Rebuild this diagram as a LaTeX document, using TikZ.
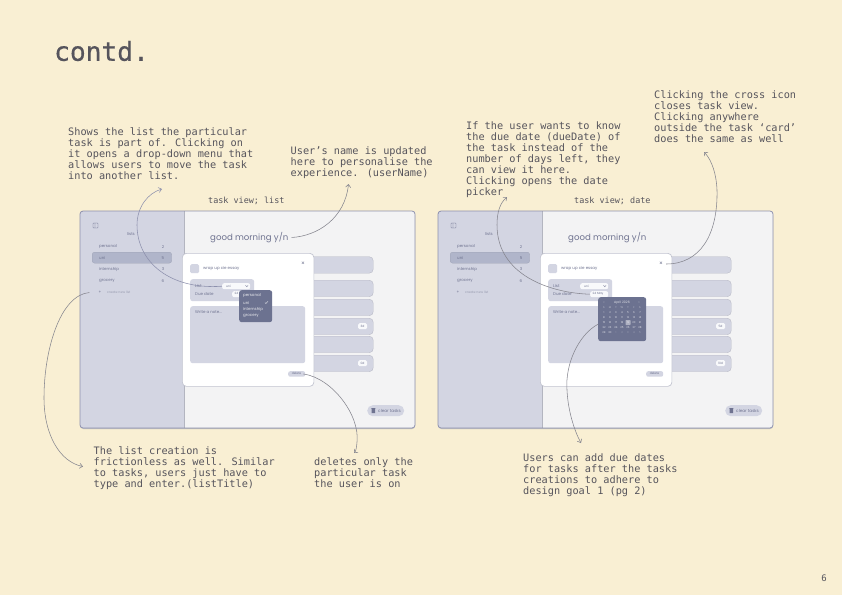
\documentclass[tikz,border=0pt]{standalone}
\usepackage{fontspec}
\setmainfont{DejaVu Sans Mono}
\newfontfamily\uifont{Poppins}
\usepackage{xcolor}
\usetikzlibrary{positioning, arrows.meta}
\definecolor{paper}{HTML}{F9EFD3}
\definecolor{inktext}{HTML}{56545C}
\definecolor{panelbg}{HTML}{F3F3F4}
\definecolor{sidebg}{HTML}{D3D5E2}
\definecolor{framec}{HTML}{8D90AD}
\definecolor{selrow}{HTML}{B0B5CA}
\definecolor{uitext}{HTML}{6F7390}
\definecolor{darkpop}{HTML}{6C7290}
\definecolor{wirec}{HTML}{85858E}
\begin{document}
\begin{tikzpicture}[
  x=1pt, y=-1pt,
  note/.style={anchor=north west, inner sep=0pt, align=left, text=inktext,
               font=\fontsize{10.25}{11}\selectfont},
  viewtag/.style={anchor=west, inner sep=0pt, text=inktext,
                  font=\fontsize{8.45}{10}\selectfont},
  uilabel/.style={anchor=west, inner sep=0pt, text=uitext,
                  font=\uifont\fontsize{4}{5}\selectfont},
  uinum/.style={uilabel, anchor=center},
  poplabel/.style={uilabel, text=white!85!darkpop},
  calnum/.style={anchor=center, inner sep=0pt, text=white!80!darkpop,
                 font=\uifont\fontsize{2.6}{3}\selectfont},
  block/.style={anchor=north west, inner sep=0pt, rounded corners=2.5pt, fill=sidebg},
  taskrow/.style={block, rounded corners=4pt, minimum width=163pt, minimum height=16.5pt,
                  draw=black!12!sidebg, line width=.4pt},
  badge/.style={block, fill=white!85!sidebg, minimum width=9pt, minimum height=6pt,
                rounded corners=1.5pt, text=uitext, font=\uifont\fontsize{3}{4}\selectfont},
  wire/.style={-{Straight Barb[length=3pt,width=5pt]}, wirec, line width=.55pt},
]
\useasboundingbox (0,0) rectangle (842,595);
\fill[paper] (0,0) rectangle (842,595);

% --- heading ---
\node[anchor=west, inner sep=0pt, text=inktext, font=\addfontfeature{FakeBold=0.5}\fontsize{26.2}{28}\selectfont] (title) at (54,51) {contd.};
\node[anchor=center, inner sep=0pt, text=inktext, font=\fontsize{9}{10}\selectfont] (pageNo) at (824,578) {6};

% --- both task views ---
\foreach \side/\dx/\tagx/\tagtext in {L/0/208/{task view; list}, R/358/216/{task view; date}} {
\begin{scope}[xshift=\dx pt, name prefix=\side-]
  \node[viewtag] (viewTag) at (\tagx,201) {\tagtext};
  \fill[black!28] (80.5,212.5) [rounded corners=3pt] rectangle (415,429);
  \node[block, fill=panelbg, minimum width=335pt, minimum height=217pt] (frame) at (80,211) {};
  \fill[sidebg] (184,211) [rounded corners=3pt] -- (80,211) -- (80,428) [sharp corners] -- (184,428) -- cycle;
  \draw[black!15!sidebg, line width=.6pt] (184,211) -- (184,428);
  \draw[framec, line width=.8pt, rounded corners=3pt] (80,211) rectangle (415,428);

  % sidebar
  \draw[uitext, line width=.35pt, rounded corners=.6pt] (93,223) rectangle (98,228) (95,223) -- (95,228);
  \node[uilabel] (listsHead) at (127,234) {lists};
  \node[block, fill=selrow, draw=black!10!selrow, line width=.3pt, minimum width=79.5pt, minimum height=11pt] (uniRow) at (92,252) {};
  \foreach \nm/\y/\cnt/\cntx in {personal/247/2/163, uni/258/5/163, internship/269/3/163, grocery/281/6/163} {
    \node[uilabel] (side\nm) at (99,\y) {\nm};
    \node[uinum] (count\nm) at (\cntx,\y) {\cnt};
  }
  \node[uinum] (plus) at (100,292.5) {+};
  \node[uilabel, font=\uifont\fontsize{3.2}{4}\selectfont, text=uitext!70] (createList) at (107,292.5) {create new list};

  % main panel
  \node[anchor=west, inner sep=0pt, text=uitext, font=\uifont\fontsize{8.6}{10}\selectfont] (greeting) at (210,237.5) {good morning y/n};
  \foreach \y [count=\r] in {256.5,280,299,318,336,355} {
    \node[taskrow] (row\r) at (210,\y) {};
  }
  \node[badge] (badgeA) at (358,323) {};
  \node[badge] (badgeB) at (358,360) {};
  \node[block, rounded corners=5.5pt, minimum width=37pt, minimum height=11pt] (clearPill) at (367,405) {};
  \node[uilabel, font=\uifont\fontsize{4.2}{5}\selectfont] (clearText) at (378,410.5) {clear tasks};
  \fill[uitext] (371.5,408.5) rectangle (375,413) (371,408) rectangle (375.5,408.4);

  % task card
  \node[block, fill=white, draw=black!8!sidebg, line width=.7pt, rounded corners=4pt,
        minimum width=131.5pt, minimum height=133pt] (card) at (182,253) {};
  \node[block, rounded corners=1.5pt, minimum width=9pt, minimum height=9pt] (tick) at (190,264) {};
  \node[uilabel, font=\uifont\fontsize{4}{5}\selectfont] (taskName) at (203,268) {wrap up cie essay};
  \node[uinum, font=\uifont\fontsize{6}{6}\selectfont] (closeBtn) at (303,264) {×};
  \node[block, minimum width=64pt, minimum height=22pt] (metaBox) at (190,279) {};
  \node[uilabel] (listLabel) at (195,286) {List};
  \node[uilabel] (dueLabel) at (195,294) {Due date};
  \node[block, fill=white!85!sidebg, rounded corners=2pt, minimum width=28pt, minimum height=6pt] (listField) at (222,283) {};
  \node[uilabel, font=\uifont\fontsize{3}{4}\selectfont] (listValue) at (226,286) {uni};
  \draw[uitext, line width=.3pt] (245.5,285.3) -- (246.8,286.8) -- (248.1,285.3);
  \node[block, fill=white!85!sidebg, rounded corners=2pt, minimum width=18pt, minimum height=6pt] (datePill) at (232,291) {};
  \node[uilabel, font=\uifont\fontsize{3}{4}\selectfont] (dateValue) at (234.5,294) {24 May};
  \node[block, minimum width=115pt, minimum height=57pt] (noteBox) at (190,306) {};
  \node[uilabel] (noteHint) at (195,312) {Write a note...};
  \node[block, rounded corners=2pt, minimum width=17pt, minimum height=5.5pt] (delBtn) at (288,371) {};
  \node[uinum, font=\uifont\fontsize{3}{4}\selectfont] (delText) at (296.5,373.7) {delete};
\end{scope}
}
\node[anchor=center, text=uitext, inner sep=0pt, font=\uifont\fontsize{3}{4}\selectfont] (L-badgeAtext) at (362.5,326) {3d};
\node[anchor=center, text=uitext, inner sep=0pt, font=\uifont\fontsize{3}{4}\selectfont] (L-badgeBtext) at (362.5,363) {0d};
\node[anchor=center, text=uitext, inner sep=0pt, font=\uifont\fontsize{3}{4}\selectfont] (R-badgeAtext) at (720.5,326) {5d};
\node[anchor=center, text=uitext, inner sep=0pt, font=\uifont\fontsize{3}{4}\selectfont] (R-badgeBtext) at (720.5,363) {10d};

% --- drop-down menu ---
\node[block, fill=darkpop, minimum width=33pt, minimum height=32pt] (L-menu) at (239,290) {};
\foreach \nm/\y in {personal/296, uni/302.5, internship/309, grocery/316} {
  \node[poplabel] (menu\nm) at (243,\y) {\nm};
}
\draw[white!85!darkpop, line width=.35pt] (265,302.5) -- (266,303.5) -- (268,301.3);

% --- date picker ---
\node[block, fill=darkpop, minimum width=48pt, minimum height=44pt] (R-calendar) at (598,297) {};
\node[calnum, font=\uifont\fontsize{3.2}{4}\selectfont] (calTitle) at (622,303) {April 2026};
\node[calnum] (calPrev) at (604,303) {<};
\node[calnum] (calNext) at (639,303) {>};
\foreach \dayname [count=\c from 0] in {S,M,T,W,T,F,S} {
  \node[calnum, text=white!55!darkpop] (calHead\c) at (604+6*\c,307.5) {\dayname};
}
\fill[white!45!darkpop, rounded corners=.6pt] (625.5,320) rectangle (630.5,325);
\foreach \n [evaluate=\n as \cx using {604+6*int(mod(\n-1,7))},
             evaluate=\n as \cy using {312.5+5*int((\n-1)/7)}] in {1,...,30} {
  \node[calnum] (calDay\n) at (\cx,\cy) {\n};
}
\foreach \n [count=\c from 2] in {1,...,5} {
  \node[calnum, text=white!35!darkpop] (calNext\n) at (604+6*\c,332.5) {\n};
}

% --- callouts ---
\node[note] (noteList) at (68,127.5) {Shows the list the particular\\task is part of. Clicking on\\it opens a drop-down menu that\\allows users to move the task\\into another list.};
\node[note] (noteName) at (290.5,147) {User's name is updated\\here to personalise the\\experience. (userName)};
\node[note] (noteDue) at (466,121.5) {If the user wants to know\\the due date (dueDate) of\\the task instead of the\\number of days left, they\\can view it here.\\Clicking opens the date\\picker};
\node[note] (noteClose) at (654,90.5) {Clicking the cross icon\\closes task view.\\Clicking anywhere\\outside the task `card'\\does the same as well};
\node[note] (noteCreate) at (93.5,446.5) {The list creation is\\frictionless as well. Similar\\to tasks, users just have to\\type and enter.(listTitle)};
\node[note] (noteDelete) at (314,457.5) {deletes only the\\particular task\\the user is on};
\node[note] (noteAdd) at (523,453.5) {Users can add due dates\\for tasks after the tasks\\creations to adhere to\\design goal 1 (pg 2)};

\coordinate (tipList) at (162,189);
\coordinate (tipName) at (348.5,184);
\coordinate (tipCreate) at (83,466.5);
\coordinate (tipDelete) at (354,453);
\coordinate (tipDue) at (507,197);
\coordinate (tipClose) at (704,152);
\coordinate (tipAdd) at (581,443);

\draw[wire, framec] (L-listField.west) .. controls (170,290) and (137,262) .. (137,225) .. controls (137,207) and (148,193) .. (tipList);
\draw[wire] ([xshift=3pt]L-greeting.east) .. controls (318,236) and (345,218) .. (tipName);
\draw[wire] ([xshift=-9pt]L-plus.west) .. controls (60,295) and (44,350) .. (44,398) .. controls (44,435) and (60,462) .. (tipCreate);
\draw[wire] ([xshift=-2pt]L-delBtn.east) .. controls (332,378) and (360,415) .. (357,442) .. controls (356.5,448) and (356,451) .. (tipDelete);
\draw[wire] (R-datePill.west) .. controls (550,293) and (497,275) .. (497,225) .. controls (497,212) and (500,203) .. (tipDue);
\draw[wire] ([xshift=3pt]R-closeBtn.east) .. controls (700,264) and (718,235) .. (717,190) .. controls (716.5,175) and (712,160) .. (tipClose);
\draw[wire] ([yshift=-5pt]R-calendar.west) .. controls (578,335) and (565,365) .. (567,390) .. controls (568,412) and (575,432) .. (tipAdd);
\end{tikzpicture}
\end{document}
